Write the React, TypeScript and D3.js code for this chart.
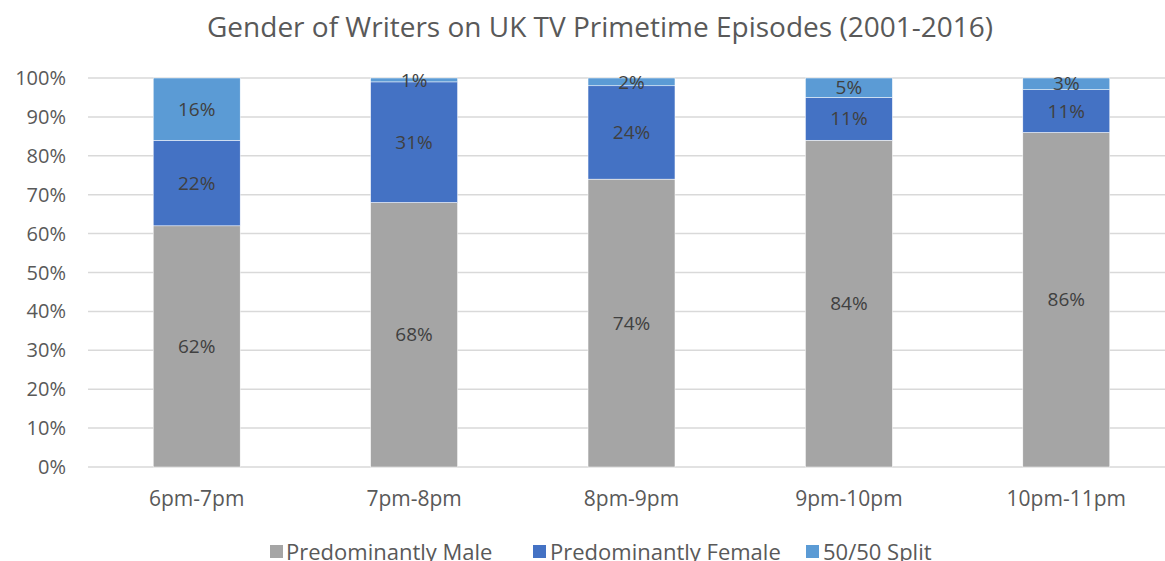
import React from "react";
import * as d3 from "d3";

const categories = ["6pm-7pm", "7pm-8pm", "8pm-9pm", "9pm-10pm", "10pm-11pm"];
const seriesNames = ["Predominantly Male", "Predominantly Female", "50/50 Split"];
const maleValues = [62, 68, 74, 84, 86];
const femaleValues = [22, 31, 24, 11, 11];
const splitValues = [16, 1, 2, 5, 3];
const yTickValues = [0, 10, 20, 30, 40, 50, 60, 70, 80, 90, 100];
const seriesColors = ["#A5A5A5", "#4472C4", "#5B9BD5"];
const title = "Gender of Writers on UK TV Primetime Episodes (2001-2016)";

const W = 1165;
const H = 561;
const FONT = "'Open Sans', sans-serif";

export default function App() {
  const rows = categories.map((c, i) => ({
    cat: c,
    s0: maleValues[i],
    s1: femaleValues[i],
    s2: splitValues[i],
  }));
  const stack = d3.stack<any>().keys(["s0", "s1", "s2"]);
  const layers = stack(rows);

  const x = d3
    .scaleBand<string>()
    .domain(categories)
    .range([88, 1175])
    .paddingInner(0.6)
    .paddingOuter(0.3);
  const y = d3.scaleLinear().domain([0, 100]).range([467, 78]);

  const legendItems = [
    { sq: 270, tx: 286 },
    { sq: 533, tx: 550 },
    { sq: 806, tx: 823 },
  ];

  return (
    <svg
      width={W}
      height={H}
      style={{ position: "fixed", left: 0, top: 0, background: "#fff" }}
      fontFamily={FONT}
    >
      <rect x={0} y={0} width={W} height={H} fill="#fff" />
      <text x={600} y={37} textAnchor="middle" fontSize={28} fill="#595959">
        {title}
      </text>
      {yTickValues.map((t) => (
        <g key={t}>
          <line x1={88} x2={1175} y1={y(t)} y2={y(t)} stroke="#D9D9D9" strokeWidth={1.5} />
          <text
            x={66}
            y={y(t)}
            dy="0.35em"
            textAnchor="end"
            fontSize={20}
            fill="#595959"
          >
            {t}%
          </text>
        </g>
      ))}
      {layers.map((layer, li) => (
        <g key={li}>
          {layer.map((d: any, i: number) => (
            <rect
              key={i}
              x={x(categories[i])}
              width={x.bandwidth()}
              y={y(d[1])}
              height={y(d[0]) - y(d[1])}
              fill={seriesColors[li]}
              stroke="#fff"
              strokeWidth={0.5}
            />
          ))}
        </g>
      ))}
      {layers.map((layer, li) => (
        <g key={"l" + li}>
          {layer.map((d: any, i: number) => (
            <text
              key={i}
              x={(x(categories[i]) as number) + x.bandwidth() / 2}
              y={y((d[0] + d[1]) / 2)}
              dy="0.35em"
              textAnchor="middle"
              fontSize={19}
              fill="#404040"
            >
              {d[1] - d[0]}%
            </text>
          ))}
        </g>
      ))}
      {categories.map((c) => (
        <text
          key={c}
          x={(x(c) as number) + x.bandwidth() / 2}
          y={506}
          textAnchor="middle"
          fontSize={21}
          fill="#595959"
        >
          {c}
        </text>
      ))}
      {seriesNames.map((n, i) => (
        <g key={n}>
          <rect x={legendItems[i].sq} y={545} width={13} height={13} fill={seriesColors[i]} />
          <text x={legendItems[i].tx} y={560} fontSize={22} fill="#595959">
            {n}
          </text>
        </g>
      ))}
    </svg>
  );
}
